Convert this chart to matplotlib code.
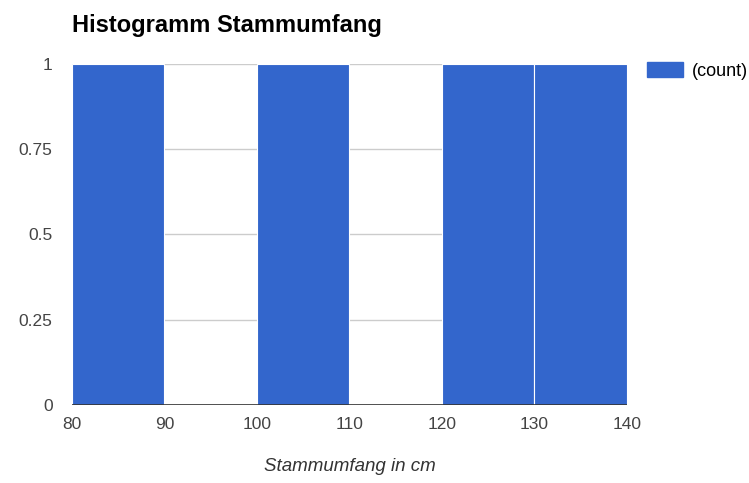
import matplotlib
matplotlib.use('Agg')
import matplotlib.pyplot as plt
import matplotlib.patches as mpatches

# Data
bin_edges = [80, 90, 100, 110, 120, 130, 140]
counts = [1, 0, 1, 0, 1, 1]
y_ticks = [0, 0.25, 0.5, 0.75, 1]
y_labels = ['0', '0.25', '0.5', '0.75', '1']

BLUE = '#3366CC'
plt.rcParams['font.family'] = ['Liberation Sans', 'DejaVu Sans']

fig = plt.figure(figsize=(7.49, 4.83), dpi=100)
fig.patch.set_facecolor('white')
ax = fig.add_axes([0.0961, 0.1615, 0.741, 0.706])

lefts = bin_edges[:-1]
widths = [b - a for a, b in zip(bin_edges[:-1], bin_edges[1:])]
ax.bar(lefts, counts, width=widths, align='edge', color=BLUE,
       edgecolor='white', linewidth=0.8, zorder=2)

ax.set_xlim(80, 140)
ax.set_ylim(0, 1)
ax.set_xticks(bin_edges)
ax.set_yticks(y_ticks)
ax.set_yticklabels(y_labels)
ax.grid(True, axis='y', color='#cccccc', linewidth=1, zorder=0)
ax.axhline(0, color='#333333', linewidth=1.2, zorder=3)
for s in ax.spines.values():
    s.set_visible(False)
ax.tick_params(length=0, labelsize=12.5, colors='#444444')
ax.tick_params(axis='x', pad=9)
ax.tick_params(axis='y', pad=14)

fig.text(0.5, 0.034, 'Stammumfang in cm', fontsize=13.5, style='italic',
         color='#333333', ha='center', va='center',
         transform=fig.transFigure)
# centre the x label under the plot area
fig.texts[-1].set_x(0.0961 + 0.741 / 2)

fig.text(0.0961, 0.934, 'Histogramm Stammumfang', fontsize=17,
         fontweight='bold', color='black', va='baseline')

handle = mpatches.Patch(color=BLUE, label='(count)')
fig.legend(handles=[handle], loc='upper left', bbox_to_anchor=(0.864, 0.872),
           frameon=False, fontsize=13, handlelength=2.0, handleheight=0.95,
           handletextpad=0.5, borderaxespad=0, borderpad=0)

fig.savefig('out.png', dpi=100, facecolor='white')
